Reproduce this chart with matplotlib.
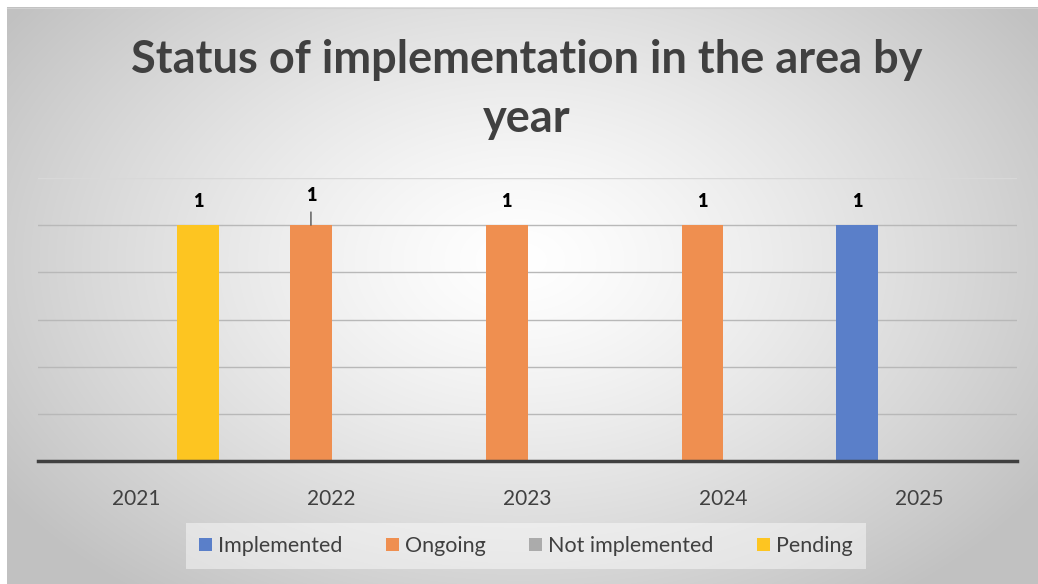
import numpy as np
import matplotlib
matplotlib.use("Agg")
import matplotlib.pyplot as plt
from matplotlib.patches import Patch

years = ["2021", "2022", "2023", "2024", "2025"]
series_names = ["Implemented", "Ongoing", "Not implemented", "Pending"]
implemented = [0, 0, 0, 0, 1]
ongoing = [0, 1, 1, 1, 0]
not_implemented = [0, 0, 0, 0, 0]
pending = [1, 0, 0, 0, 0]
colors = ["#5A7FC9", "#EF8F50", "#ABABAB", "#FDC521"]

W, H = 1038, 584
fig = plt.figure(figsize=(W / 100, H / 100), dpi=100)
fig.patch.set_facecolor("white")

# background radial gradient
bg = fig.add_axes([0, 0, 1, 1])
bg.set_xlim(0, W)
bg.set_ylim(H, 0)
bg.axis("off")
yy, xx = np.mgrid[7:H:1, 7:W:1]
cx, cy = 520, 260
r = np.sqrt(((xx - cx) / 620.0) ** 2 + ((yy - cy) / 420.0) ** 2)
r = np.clip(r, 0, 1)
v = 1.0 - 0.24 * r ** 1.3
img = np.dstack([v, v, v])
bg.imshow(img, extent=(7, W, H, 7), aspect="auto", interpolation="bilinear")
bg.plot([7, W], [7.5, 7.5], color="#d0d0d0", lw=0.8)

ax = fig.add_axes([38 / W, (H - 461) / H, (1017 - 38) / W, (461 - 178) / H])
ax.patch.set_alpha(0)
x = np.arange(len(years))
bw = 0.212
data = [implemented, ongoing, not_implemented, pending]
offsets = [-1.5, -0.5, 0.5, 1.5]
for vals, c, off, name in zip(data, colors, offsets, series_names):
    ax.bar(x + off * bw, vals, width=bw, color=c, label=name, zorder=3)
    for xi, v_ in zip(x + off * bw, vals):
        if v_ > 0:
            if name == "Ongoing" and xi < 1.5:
                ax.annotate("1", xy=(xi, v_), xytext=(0, 30), textcoords="offset pixels",
                            ha="center", va="center", fontsize=13, fontweight="heavy",
                            color="black", family="Lato",
                            arrowprops=dict(arrowstyle="-", color="#404040", lw=0.9,
                                            shrinkA=4, shrinkB=0))
            else:
                ax.annotate("1", xy=(xi, v_), xytext=(0, 24), textcoords="offset pixels",
                            ha="center", va="center", fontsize=13, fontweight="heavy",
                            color="black", family="Lato")

ax.set_xlim(-0.5, 4.5)
ax.set_ylim(0, 1.2)
ax.set_yticks(np.arange(0, 1.01, 0.2))
ax.yaxis.grid(True, color="#b8b8b8", lw=1, zorder=0)
ax.axhline(1.2, color="#d8d8d8", lw=1, zorder=0)
ax.set_yticklabels([])
ax.tick_params(axis="y", length=0)
ax.set_xticks(x)
ax.set_xticklabels(years, fontsize=15, color="#404040", family="Lato")
ax.tick_params(axis="x", length=0, pad=20)
for s in ["top", "left", "right"]:
    ax.spines[s].set_visible(False)
ax.spines["bottom"].set_color("#404040")
ax.spines["bottom"].set_linewidth(2.5)
ax.spines["bottom"].set_zorder(4)

fig.text(527 / W, 1 - 60 / H, "Status of implementation in the area by", ha="center", va="center",
         fontsize=32.5, fontweight="bold", color="#404040", family="Lato")
fig.text(527 / W, 1 - 119 / H, "year", ha="center", va="center",
         fontsize=32.5, fontweight="bold", color="#404040", family="Lato")

handles = [Patch(facecolor=c, edgecolor="none") for c in colors]
leg = fig.legend(handles, series_names, loc="center", bbox_to_anchor=(526 / W, 1 - 546 / H),
                 ncol=4, frameon=True, handlelength=0.6, handleheight=0.6,
                 handletextpad=0.3, columnspacing=2.0, borderpad=0.6,
                 prop={"family": "Lato", "size": 15.5})
leg.get_frame().set_facecolor("white")
leg.get_frame().set_alpha(0.45)
leg.get_frame().set_edgecolor("none")
leg.get_frame().set_boxstyle("square", pad=0)
for t in leg.get_texts():
    t.set_color("#404040")

fig.savefig("out.png", dpi=100)
